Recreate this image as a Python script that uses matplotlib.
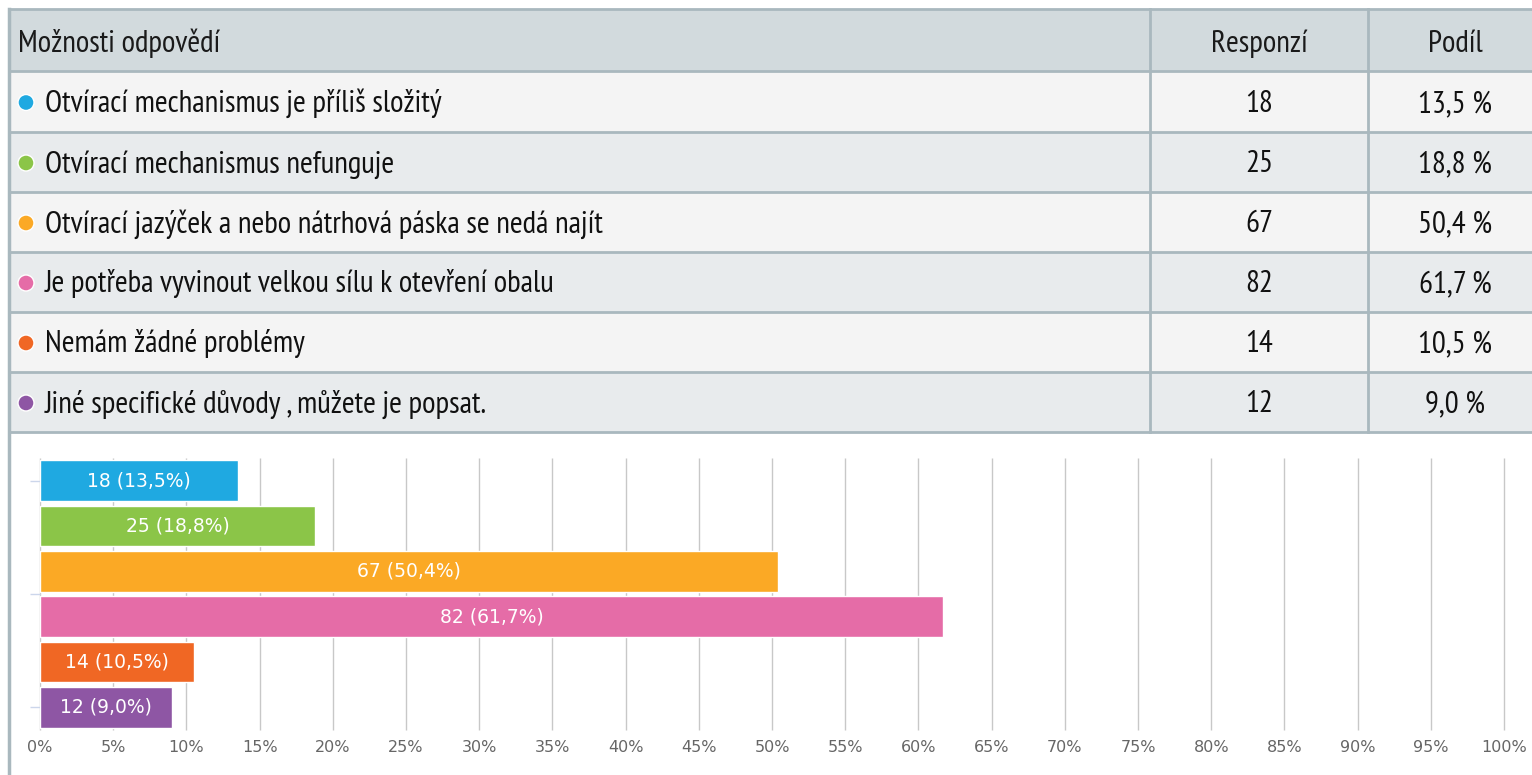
import matplotlib
matplotlib.use('Agg')
import matplotlib.pyplot as plt
from matplotlib.patches import Rectangle, Circle
from matplotlib import font_manager as fm

# ---- data ----
options = [
    "Otvírací mechanismus je příliš složitý",
    "Otvírací mechanismus nefunguje",
    "Otvírací jazýček a nebo nátrhová páska se nedá najít",
    "Je potřeba vyvinout velkou sílu k otevření obalu",
    "Nemám žádné problémy",
    "Jiné specifické důvody , můžete je popsat.",
]
responses = [18, 25, 67, 82, 14, 12]
shares = [13.5, 18.8, 50.4, 61.7, 10.5, 9.0]
colors = ["#1fa9e1", "#8bc548", "#fba925", "#e56ca7", "#f06724", "#8e56a4"]
header = ["Možnosti odpovědí", "Responzí", "Podíl"]
xticks = list(range(0, 101, 5))

def fmt(v):
    return f"{v:.1f}".replace('.', ',')

W, H = 1532, 775
fig = plt.figure(figsize=(W / 100, H / 100), dpi=100)
fig.patch.set_facecolor('white')

PX = 0.72  # px -> pt
avail = {f.name for f in fm.fontManager.ttflist}
TFONT = [f for f in ['PT Sans Narrow', 'Roboto Condensed', 'Archivo Narrow',
                     'Liberation Sans Narrow'] if f in avail] + ['DejaVu Sans']
TFONT = [TFONT[0], 'DejaVu Sans'] if TFONT[0] != 'DejaVu Sans' else ['DejaVu Sans']

# ---- table (pixel-space overlay) ----
bg = fig.add_axes([0, 0, 1, 1])
bg.set_xlim(0, W)
bg.set_ylim(H, 0)
bg.axis('off')

border = "#a9b8be"
left, right = 9, 1545
col1, col2 = 1150, 1368
row_edges = [9, 71, 132, 192, 252, 312, 372, 432]

bg.add_patch(Rectangle((left, row_edges[0]), right - left, row_edges[1] - row_edges[0],
                       facecolor="#d2dadd", edgecolor='none', zorder=1))
for i in range(len(options)):
    y0, y1 = row_edges[i + 1], row_edges[i + 2]
    fc = "#f4f4f4" if i % 2 == 0 else "#e8ebed"
    bg.add_patch(Rectangle((left, y0), right - left, y1 - y0, facecolor=fc,
                           edgecolor='none', zorder=1))
for y in row_edges:
    bg.plot([left, right], [y, y], color=border, lw=2, zorder=2, solid_capstyle='butt')
bg.plot([left, left], [row_edges[0], H], color=border, lw=2.5, zorder=2)
for x in (col1, col2):
    bg.plot([x, x], [row_edges[0], row_edges[-1]], color=border, lw=2, zorder=2)

fs_t = 31 * PX
ymid = (row_edges[0] + row_edges[1]) / 2 + 12
kw = dict(va='baseline', fontsize=fs_t, family=TFONT, zorder=3)
bg.text(18, ymid, header[0], ha='left', color='#1a1a1a', **kw)
bg.text((col1 + col2) / 2, ymid, header[1], ha='center', color='#1a1a1a', **kw)
bg.text(1455, ymid, header[2], ha='center', color='#1a1a1a', **kw)

for i, (opt, r, s, c) in enumerate(zip(options, responses, shares, colors)):
    yc = (row_edges[i + 1] + row_edges[i + 2]) / 2
    bg.add_patch(Circle((26, yc + 1), 8, facecolor=c, edgecolor='white', lw=1, zorder=3))
    yb = yc + 10.5
    bg.text(45, yb, opt, ha='left', color='#111111', **kw)
    bg.text((col1 + col2) / 2, yb, str(r), ha='center', color='#111111', **kw)
    bg.text(1455, yb, fmt(s) + " %", ha='center', color='#111111', **kw)

# ---- bar chart ----
ax = fig.add_axes([40 / W, 1 - 730 / H, 1464 / W, 272 / H])
ax.set_facecolor('none')
ypos = list(range(len(options)))
ax.barh(ypos, shares, height=0.89, color=colors, edgecolor='white', linewidth=1, zorder=3)
for y, r, s in zip(ypos, responses, shares):
    ax.text(s / 2, y, f"{r} ({fmt(s)}%)", ha='center', va='center', color='white',
            fontsize=13.5, family='DejaVu Sans', zorder=4)

ax.set_xlim(0, 100)
ax.set_ylim(len(options) - 0.5, -0.5)
ax.set_xticks(xticks)
ax.set_xticklabels([f"{t}%" for t in xticks], color='#666666', fontsize=11.5, family='DejaVu Sans')
ax.tick_params(axis='x', length=0, pad=7)
ax.set_yticks([0, 2.5, 5])
ax.set_yticklabels([])
ax.tick_params(axis='y', length=7, color='#ccd6eb', width=1)
ax.vlines(xticks, len(options) - 0.5, -0.5, color='#c8c8c8', lw=1, zorder=0, clip_on=False)
for sp in ax.spines.values():
    sp.set_visible(False)

fig.savefig('out.png', dpi=100, facecolor='white')
